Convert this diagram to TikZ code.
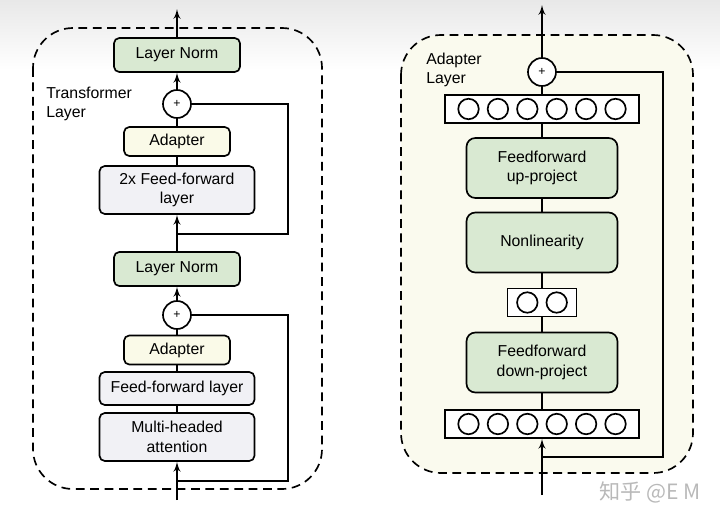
\documentclass[tikz,border=0pt]{standalone}
\usepackage{fontspec}
\setmainfont{Liberation Sans}
\newfontfamily\cjk{Noto Sans CJK SC}
\usepackage{tikz}
\usetikzlibrary{positioning,arrows}

\definecolor{normgreen}{RGB}{217,233,210}
\definecolor{adyellow}{RGB}{250,250,232}
\definecolor{ffgray}{RGB}{241,241,245}
\definecolor{adbg}{RGB}{250,250,238}
\definecolor{markgray}{RGB}{185,185,185}

\begin{document}
\begin{tikzpicture}[x=0.02cm,y=-0.02cm,font=\fontsize{9}{11}\selectfont]
		\tikzset{block/.style = {draw,line width=0.95pt,rounded corners=3pt,align=center,inner sep=0pt}}
		\tikzset{norm/.style = {block,fill=normgreen,minimum width=2.52cm,minimum height=0.68cm}}
		\tikzset{adapt/.style = {block,fill=adyellow,minimum width=2.12cm,minimum height=0.58cm}}
		\tikzset{ffwd/.style = {block,fill=ffgray,minimum width=3.1cm}}
		\tikzset{proj/.style = {block,fill=normgreen,rounded corners=5pt,minimum width=3.02cm,minimum height=1.2cm}}
		\tikzset{vec/.style = {draw,line width=0.95pt,fill=white,inner sep=0pt,minimum height=0.56cm}}
		\tikzset{neuron/.style = {shape=circle,draw,line width=0.95pt,inner sep=0pt,minimum size=0.41cm}}
		\tikzset{plus/.style = {shape=circle,draw,line width=0.95pt,fill=white,inner sep=0pt,minimum size=0.56cm,font=\fontsize{7}{8}\selectfont}}
		\tikzset{frame/.style = {draw,dashed,line width=0.95pt,dash pattern=on 5pt off 3.2pt,rounded corners=0.8cm}}
		\tikzset{func/.style = {->,> = latex',line width=0.95pt}}
		\tikzset{line/.style = {line width=0.95pt}}

		\useasboundingbox (0,0) rectangle (720,521);
		\shade[top color=black!9,bottom color=white] (0,0) rectangle (720,70);

		% frames
		\path[frame] (33,28) rectangle (322,489);
		\path[frame,fill=adbg] (401,35) rectangle (693,473);
		\node[anchor=west,align=left,inner sep=0pt] (tlabel) at (46,104) {Transformer\\Layer};
		\node[anchor=west,align=left,inner sep=0pt] (alabel) at (426,70) {Adapter\\Layer};

		% blocks transformer layer
		\node[norm] (ln1) at (177,55) {Layer Norm};
		\node[plus] (add1) at (177,104) {+};
		\node[adapt] (ad1) at (177,141.5) {Adapter};
		\node[ffwd,minimum height=0.96cm] (ff1) at (177,190) {2x Feed-forward\\layer};
		\node[norm] (ln2) at (177,269) {Layer Norm};
		\node[plus] (add2) at (177,315) {+};
		\node[adapt] (ad2) at (177,350) {Adapter};
		\node[ffwd,minimum height=0.66cm] (ff2) at (177,388.5) {Feed-forward layer};
		\node[ffwd,minimum height=0.96cm] (mha) at (177,437) {Multi-headed\\attention};
		\coordinate (out1) at (177,9);
		\coordinate (in1) at (177,500);
		\coordinate (j1) at (177,234);
		\coordinate (r1) at (288,104);
		\coordinate (j2) at (177,481);
		\coordinate (r2) at (288,315);

		% blocks adapter layer
		\node[plus] (add3) at (542,72) {+};
		\node[vec,minimum width=3.88cm] (upvec) at (542,109) {};
		\node[proj] (up) at (542,168) {Feedforward\\up-project};
		\node[proj] (nl) at (542,242.5) {Nonlinearity};
		\node[vec,minimum width=1.38cm] (midvec) at (542,302.5) {};
		\node[proj] (down) at (542,362.5) {Feedforward\\down-project};
		\node[vec,minimum width=3.88cm] (downvec) at (542,424) {};
		\foreach \i in {0,...,5}{
			\node[neuron] (hu\i) at ({542+(\i-2.5)*29.4},109) {};
			\node[neuron] (hd\i) at ({542+(\i-2.5)*29.4},424) {};
		}
		\node[neuron] (hm0) at (527.3,302.5) {};
		\node[neuron] (hm1) at (556.7,302.5) {};
		\coordinate (out2) at (542,5);
		\coordinate (in2) at (542,495);
		\coordinate (j3) at (542,457);
		\coordinate (r3) at (663,72);

		% edges transformer layer
		\draw[func] (ln1) to (out1);
		\draw[func] (add1) to (ln1);
		\draw[line] (ad1) to (add1);
		\draw[line] (ff1) to (ad1);
		\draw[func] (ln2) to (ff1);
		\draw[line] (j1) -| (r1) -- (add1);
		\draw[func] (add2) to (ln2);
		\draw[line] (ad2) to (add2);
		\draw[line] (ff2) to (ad2);
		\draw[line] (mha) to (ff2);
		\draw[func] (in1) to (mha);
		\draw[line] (j2) -| (r2) -- (add2);

		% edges adapter layer
		\draw[func] (add3) to (out2);
		\draw[line] (upvec) to (add3);
		\draw[line] (up) to (upvec);
		\draw[line] (nl) to (up);
		\draw[line] (midvec) to (nl);
		\draw[line] (down) to (midvec);
		\draw[line] (downvec) to (down);
		\draw[func] (in2) to (downvec);
		\draw[line] (j3) -| (r3) -- (add3);

		% watermark
		\node[text=markgray,font=\cjk\fontsize{12}{14}\selectfont] (mark) at (650,492) {知乎 @E M};
	\end{tikzpicture}
\end{document}
